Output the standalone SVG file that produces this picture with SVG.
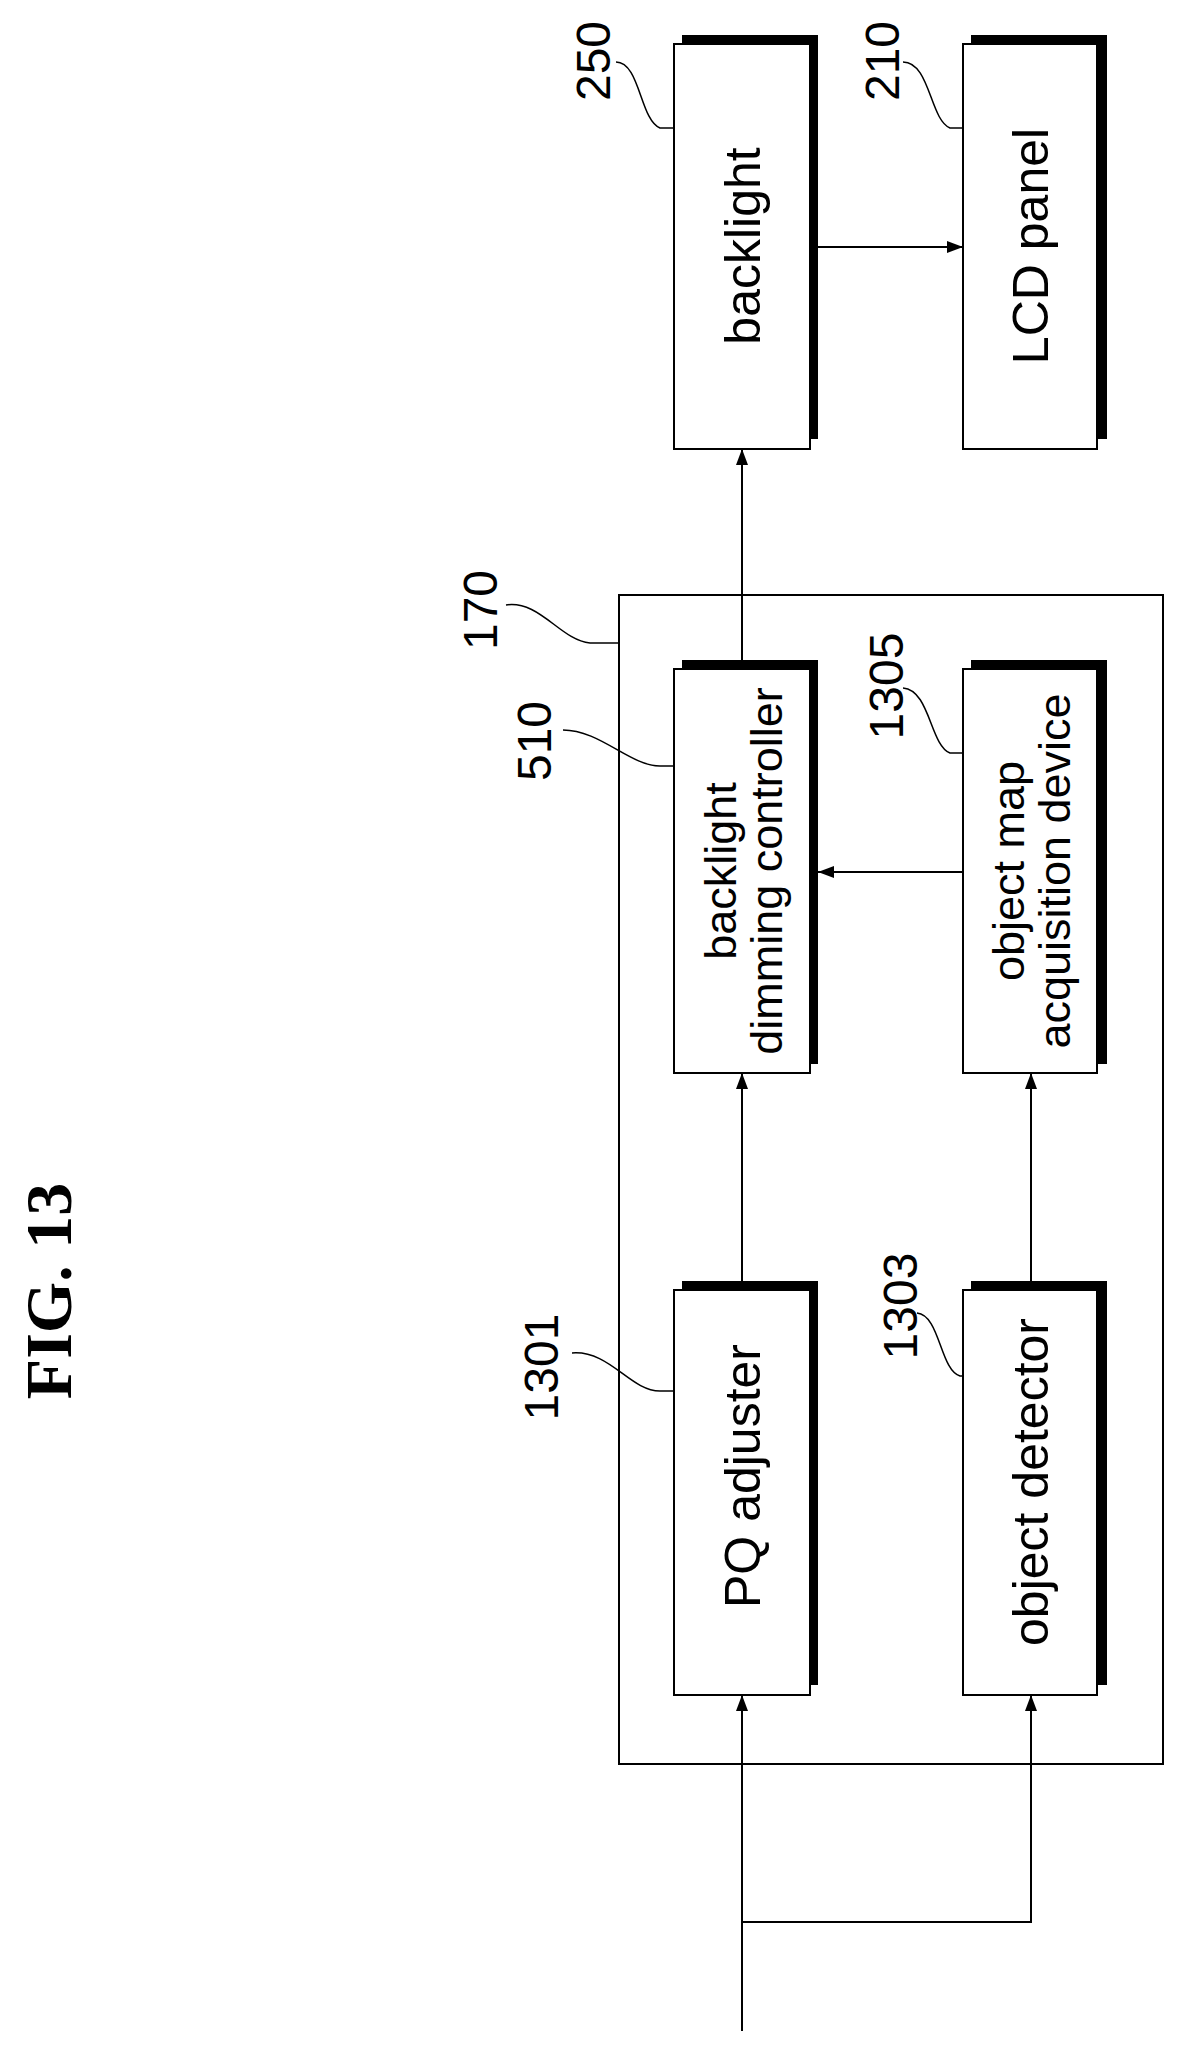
<svg xmlns="http://www.w3.org/2000/svg" width="1186" height="2053" viewBox="0 0 1186 2053">
<style>
.box{fill:#fff;stroke:#000;stroke-width:2}
.sh{fill:#000}
.t{font-family:"Liberation Sans",Arial,sans-serif;font-size:50px;text-anchor:middle;fill:#000}
.t2{font-family:"Liberation Sans",Arial,sans-serif;font-size:45px;text-anchor:middle;fill:#000}
.lb{font-family:"Liberation Sans",Arial,sans-serif;font-size:48px;text-anchor:middle;fill:#000}
.ln{fill:none;stroke:#000;stroke-width:2}
.ld{fill:none;stroke:#000;stroke-width:1.5}
</style>
<defs>
<marker id="ah" markerWidth="16" markerHeight="12" refX="16" refY="6" orient="auto" markerUnits="userSpaceOnUse"><path d="M0,0 L16,6 L0,12 Z" fill="#000"/></marker>
</defs>
<text x="48" y="1291" transform="rotate(-90 48 1291)" dy="0.35em" style="font-family:'Liberation Serif','Times New Roman',serif;font-weight:bold;font-size:66px;text-anchor:middle">FIG. 13</text>

<g id="n170"><rect x="619" y="595" width="544" height="1169" class="ln"/>
<text class="lb" transform="translate(480,610) rotate(-90)" dy="0.35em">170</text>
<path class="ld" d="M506,605 C540,600 560,640 590,643 L619,643"/></g>

<g id="n250"><rect class="sh" x="682" y="35" width="136" height="404"/><rect class="box" x="674" y="44" width="136" height="405"/>
<text class="t" transform="translate(742,246) rotate(-90)" dy="0.35em">backlight</text>
<text class="lb" transform="translate(593,61) rotate(-90)" dy="0.35em">250</text>
<path class="ld" d="M616,62 C640,62 640,120 660,128 L674,128"/></g>

<g id="n210"><rect class="sh" x="971" y="35" width="136" height="404"/><rect class="box" x="963" y="44" width="134" height="405"/>
<text class="t" transform="translate(1030,246) rotate(-90)" dy="0.35em">LCD panel</text>
<text class="lb" transform="translate(882,61) rotate(-90)" dy="0.35em">210</text>
<path class="ld" d="M903,62 C930,62 930,120 950,128 L963,128"/></g>

<g id="n510"><rect class="sh" x="682" y="660" width="136" height="404"/><rect class="box" x="674" y="669" width="136" height="404"/>
<text class="t2" transform="translate(720,871) rotate(-90)" dy="0.35em">backlight</text>
<text class="t2" transform="translate(766,871) rotate(-90)" dy="0.35em">dimming controller</text>
<text class="lb" transform="translate(534,741) rotate(-90)" dy="0.35em">510</text>
<path class="ld" d="M563,730 C600,730 630,766 660,766 L674,766"/></g>

<g id="n1305"><rect class="sh" x="971" y="660" width="136" height="404"/><rect class="box" x="963" y="669" width="134" height="404"/>
<text class="t2" transform="translate(1008,871) rotate(-90)" dy="0.35em">object map</text>
<text class="t2" transform="translate(1054,871) rotate(-90)" dy="0.35em">acquisition device</text>
<text class="lb" transform="translate(886,686) rotate(-90)" dy="0.35em">1305</text>
<path class="ld" d="M903,688 C930,690 930,745 950,753 L963,753"/></g>

<g id="n1301"><rect class="sh" x="682" y="1281" width="136" height="404"/><rect class="box" x="674" y="1290" width="136" height="405"/>
<text class="t" transform="translate(742,1476) rotate(-90)" dy="0.35em">PQ adjuster</text>
<text class="lb" transform="translate(541,1367) rotate(-90)" dy="0.35em">1301</text>
<path class="ld" d="M572,1353 C610,1350 630,1391 660,1391 L674,1391"/></g>

<g id="n1303"><rect class="sh" x="971" y="1281" width="136" height="404"/><rect class="box" x="963" y="1290" width="134" height="405"/>
<text class="t" transform="translate(1030,1482) rotate(-90)" dy="0.35em">object detector</text>
<text class="lb" transform="translate(900,1306) rotate(-90)" dy="0.35em">1303</text>
<path class="ld" d="M917,1313 C940,1315 940,1370 960,1376 L963,1376"/></g>

<g id="connectors">
<line class="ln" x1="818" y1="247" x2="963" y2="247" marker-end="url(#ah)"/>
<line class="ln" x1="742" y1="660" x2="742" y2="449" marker-end="url(#ah)"/>
<line class="ln" x1="963" y1="872" x2="818" y2="872" marker-end="url(#ah)"/>
<line class="ln" x1="742" y1="1281" x2="742" y2="1073" marker-end="url(#ah)"/>
<line class="ln" x1="1031" y1="1281" x2="1031" y2="1073" marker-end="url(#ah)"/>
<line class="ln" x1="742" y1="2031" x2="742" y2="1695" marker-end="url(#ah)"/>
<polyline class="ln" points="742,1922 1031,1922 1031,1695" marker-end="url(#ah)"/>
</g>
</svg>
